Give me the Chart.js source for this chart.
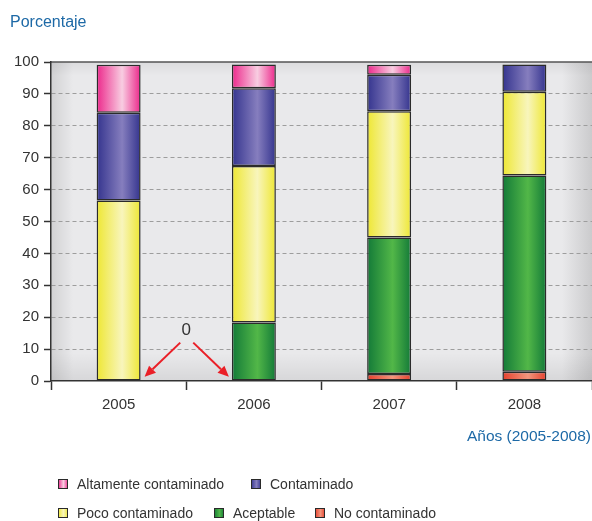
<!DOCTYPE html>
<html>
<head>
<meta charset="utf-8">
<script src="https://cdn.jsdelivr.net/npm/chart.js@4.4.1/dist/chart.umd.min.js"></script>
<style>
  html, body { margin: 0; padding: 0; background: #ffffff; }
  #wrap { position: relative; width: 592px; height: 521px; }
  canvas { position: absolute; left: 0; top: 0; }
</style>
</head>
<body>
<div id="wrap"><canvas id="chart" width="592" height="521"></canvas></div>
<script>
// Water quality shares per year (percent), stacked from the bottom up
const years = ['2005', '2006', '2007', '2008'];
const noContaminado        = [0,    0,    2.2,  2.9];
const aceptable            = [0,    18.3, 42.8, 61.5];
const pocoContaminado      = [56.6, 49.1, 39.6, 26.3];
const contaminado          = [27.5, 24.4, 11.4, 8.5];
const altamenteContaminado = [15.0, 7.4,  3.1,  0];
const yTicks = [0, 10, 20, 30, 40, 50, 60, 70, 80, 90, 100];

const yTitle = 'Porcentaje';
const xTitle = 'Años (2005-2008)';
const zeroNote = '0';
// the note sits between 2005 and 2006; arrows point at the empty "No contaminado" bases
const zeroNoteAt = { x: 0.5, y: 15.8 };
const zeroArrowTipY = 1.3;

const FONT = '"Liberation Sans", Arial, sans-serif';
const BAR_FRAC = 0.325;

function barFill(edge, light) {
  return (ctx) => {
    const chart = ctx.chart;
    const xs = chart.scales && chart.scales.x;
    if (!chart.chartArea || !xs || ctx.dataIndex === undefined) return edge;
    const cx = xs.getPixelForValue(ctx.dataIndex);
    const w = (chart.chartArea.width / years.length) * BAR_FRAC;
    const g = chart.ctx.createLinearGradient(cx - w / 2, 0, cx + w / 2, 0);
    g.addColorStop(0, edge);
    g.addColorStop(0.58, light);
    g.addColorStop(1, edge);
    return g;
  };
}

const series = [
  { label: 'No contaminado',        data: noContaminado,        edge: '#e5402d', light: '#f3957c' },
  { label: 'Aceptable',             data: aceptable,            edge: '#137a38', light: '#52b748' },
  { label: 'Poco contaminado',      data: pocoContaminado,      edge: '#eee733', light: '#f8f5bc' },
  { label: 'Contaminado',           data: contaminado,          edge: '#34348e', light: '#867ebe' },
  { label: 'Altamente contaminado', data: altamenteContaminado, edge: '#ec288b', light: '#f8cde1' }
];

// legend layout: two rows, as [label, x of swatch]
const legendRows = [
  { y: 484, items: [['Altamente contaminado', 58], ['Contaminado', 251]] },
  { y: 513, items: [['Poco contaminado', 58], ['Aceptable', 214], ['No contaminado', 315]] }
];

const plotBackground = {
  id: 'plotBackground',
  beforeDraw(chart) {
    const { ctx, chartArea: a } = chart;
    ctx.save();
    ctx.fillStyle = '#e9e9eb';
    ctx.fillRect(a.left, a.top, a.width, a.height);
    let g = ctx.createLinearGradient(a.left, 0, a.left + 22, 0);
    g.addColorStop(0, 'rgba(0,0,0,0.10)');
    g.addColorStop(1, 'rgba(0,0,0,0)');
    ctx.fillStyle = g;
    ctx.fillRect(a.left, a.top, 22, a.height);
    g = ctx.createLinearGradient(a.right - 30, 0, a.right, 0);
    g.addColorStop(0, 'rgba(0,0,0,0)');
    g.addColorStop(1, 'rgba(0,0,0,0.13)');
    ctx.fillStyle = g;
    ctx.fillRect(a.right - 30, a.top, 30, a.height);
    g = ctx.createLinearGradient(0, a.bottom - 28, 0, a.bottom);
    g.addColorStop(0, 'rgba(0,0,0,0)');
    g.addColorStop(1, 'rgba(0,0,0,0.08)');
    ctx.fillStyle = g;
    ctx.fillRect(a.left, a.bottom - 28, a.width, 28);
    g = ctx.createLinearGradient(0, a.top, 0, a.top + 14);
    g.addColorStop(0, 'rgba(0,0,0,0.06)');
    g.addColorStop(1, 'rgba(0,0,0,0)');
    ctx.fillStyle = g;
    ctx.fillRect(a.left, a.top, a.width, 14);
    // frame line along the top of the plot
    ctx.strokeStyle = '#555555';
    ctx.lineWidth = 1.5;
    ctx.beginPath();
    ctx.moveTo(a.left, a.top);
    ctx.lineTo(a.right, a.top);
    ctx.stroke();
    ctx.restore();
  }
};

function arrow(ctx, x1, y1, x2, y2) {
  const ang = Math.atan2(y2 - y1, x2 - x1);
  const head = 11, half = 5;
  const bx = x2 - head * Math.cos(ang), by = y2 - head * Math.sin(ang);
  ctx.beginPath();
  ctx.moveTo(x1, y1);
  ctx.lineTo(bx, by);
  ctx.stroke();
  ctx.beginPath();
  ctx.moveTo(x2, y2);
  ctx.lineTo(bx + half * Math.sin(ang), by - half * Math.cos(ang));
  ctx.lineTo(bx - half * Math.sin(ang), by + half * Math.cos(ang));
  ctx.closePath();
  ctx.fill();
}

const overlays = {
  id: 'overlays',
  afterDraw(chart) {
    const { ctx, scales: { x, y }, chartArea: a } = chart;
    ctx.save();
    // axis titles
    ctx.fillStyle = '#1d69a6';
    ctx.font = '16px ' + FONT;
    ctx.textBaseline = 'alphabetic';
    ctx.textAlign = 'left';
    ctx.fillText(yTitle, 10, 27);
    ctx.font = '15.5px ' + FONT;
    ctx.textAlign = 'right';
    ctx.fillText(xTitle, 591, 441);

    // zero note with arrows
    const w = (a.width / years.length) * BAR_FRAC;
    const nx = x.getPixelForValue(zeroNoteAt.x);
    const ny = y.getPixelForValue(zeroNoteAt.y);
    ctx.fillStyle = '#333333';
    ctx.font = '17px ' + FONT;
    ctx.textAlign = 'center';
    ctx.textBaseline = 'middle';
    ctx.fillText(zeroNote, nx, ny);
    ctx.strokeStyle = '#ea1f27';
    ctx.fillStyle = '#ea1f27';
    ctx.lineWidth = 2;
    const tipY = y.getPixelForValue(zeroArrowTipY);
    arrow(ctx, nx - 6, ny + 12, x.getPixelForValue(0) + w / 2 + 4, tipY);
    arrow(ctx, nx + 7, ny + 12, x.getPixelForValue(1) - w / 2 - 3, tipY);

    // legend
    ctx.font = '14px ' + FONT;
    ctx.textAlign = 'left';
    ctx.textBaseline = 'middle';
    legendRows.forEach(row => {
      row.items.forEach(([label, sx]) => {
        const s = series.find(d => d.label === label);
        const g = ctx.createLinearGradient(sx, 0, sx + 10, 0);
        g.addColorStop(0, s.edge);
        g.addColorStop(0.55, s.light);
        g.addColorStop(1, s.edge);
        ctx.fillStyle = g;
        ctx.fillRect(sx, row.y - 5, 10, 10);
        ctx.strokeStyle = '#2a2a2a';
        ctx.lineWidth = 1;
        ctx.strokeRect(sx + 0.5, row.y - 4.5, 9, 9);
        ctx.fillStyle = '#333333';
        ctx.fillText(label, sx + 19, row.y + 1);
      });
    });
    ctx.restore();
  }
};

new Chart(document.getElementById('chart'), {
  type: 'bar',
  data: {
    labels: years,
    datasets: series.map(s => ({
      label: s.label,
      data: s.data,
      backgroundColor: barFill(s.edge, s.light),
      borderColor: '#2b2b2b',
      borderWidth: 1.5,
      borderSkipped: false,
      barPercentage: BAR_FRAC,
      categoryPercentage: 1
    }))
  },
  options: {
    responsive: false,
    devicePixelRatio: 1,
    animation: false,
    layout: { padding: { top: 62, right: 0, left: 0, bottom: 0 } },
    plugins: { legend: { display: false }, tooltip: { enabled: false } },
    scales: {
      x: {
        stacked: true,
        afterFit: s => { s.height = 140; },
        grid: {
          display: true,
          offset: true,
          drawOnChartArea: false,
          drawTicks: true,
          tickLength: 9,
          tickColor: '#333333',
          tickWidth: 1.5
        },
        border: { display: true, color: '#333333', width: 1.5 },
        ticks: {
          color: '#333333',
          font: { family: FONT, size: 15 },
          padding: 6
        }
      },
      y: {
        stacked: true,
        min: 0,
        max: 100,
        afterFit: s => { s.width = 51; },
        afterBuildTicks: s => { s.ticks = yTicks.map(v => ({ value: v })); },
        grid: {
          color: c => (c.tick && (c.tick.value === 0 || c.tick.value === 100)) ? 'rgba(0,0,0,0)' : '#9d9d9d',
          lineWidth: 1,
          tickLength: 7,
          tickColor: '#333333',
          tickWidth: 1.5,
          tickBorderDash: []
        },
        border: { display: true, color: '#333333', width: 1.5, dash: [4, 3] },
        ticks: {
          color: '#333333',
          font: { family: FONT, size: 15 },
          padding: 5
        }
      }
    }
  },
  plugins: [plotBackground, overlays]
});
</script>
</body>
</html>
